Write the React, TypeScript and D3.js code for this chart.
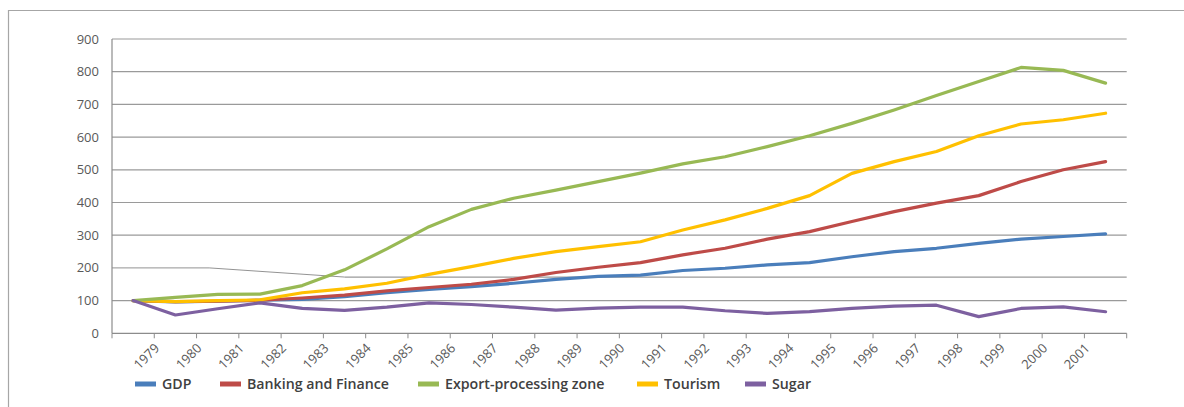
import React from "react";
import * as d3 from "d3";

const tickLabels = ["1979","1980","1981","1982","1983","1984","1985","1986","1987","1988","1989","1990","1991","1992","1993","1994","1995","1996","1997","1998","1999","2000","2001"];
const pointIndex = d3.range(24);

const gdp = [100, 96, 98, 101, 104, 112, 124, 134, 143, 153, 165, 174, 178, 192, 199, 209, 216, 234, 250, 260, 275, 288, 296, 304];
const banking = [100, 97, 98, 101, 108, 117, 130, 140, 150, 165, 186, 202, 216, 240, 260, 288, 311, 342, 372, 398, 421, 464, 500, 525];
const epz = [100, 110, 119, 120, 146, 194, 258, 326, 379, 413, 438, 464, 490, 518, 540, 571, 604, 642, 683, 727, 770, 813, 804, 765];
const tourism = [100, 97, 100, 102, 124, 136, 153, 180, 204, 229, 250, 265, 280, 316, 347, 382, 421, 489, 525, 556, 604, 640, 653, 673];
const sugar = [100, 56, 75, 93, 76, 70, 80, 93, 88, 80, 71, 77, 80, 80, 69, 61, 66, 76, 83, 86, 51, 76, 81, 66];

const seriesNames = ["GDP", "Banking and Finance", "Export-processing zone", "Tourism", "Sugar"];
const seriesColors = ["#4a7ebb", "#be4b48", "#98b954", "#ffc000", "#7d60a0"];
const seriesValues = [gdp, banking, epz, tourism, sugar];
const drawOrder = [0, 1, 3, 2, 4];

const yTicks = [0, 100, 200, 300, 400, 500, 600, 700, 800, 900];

// distorted 200-gridline seen in the source (band position, value)
const skewedGrid: [number, number][] = [[0, 200], [2.3, 200], [5.5, 172], [24, 172]];

export default function App() {
  const W = 1184, H = 407;
  const left = 112, right = 1126.7, top = 39, bottom = 333.3;
  const x = d3.scaleBand<number>().domain(pointIndex).range([left, right]).padding(0);
  const bw = x.bandwidth();
  const xc = (i: number) => (x(i) as number) + bw / 2;
  const xPos = d3.scaleLinear().domain([0, 24]).range([left, right]);
  const y = d3.scaleLinear().domain([0, 900]).range([bottom, top]);

  const line = d3.line<number>().x((_, i) => xc(i)).y((v) => y(v));
  const gridLine = d3.line<[number, number]>().x((d) => xPos(d[0])).y((d) => y(d[1]));

  const legendX = [135, 220, 418, 637, 745];
  const font = "'Open Sans', 'DejaVu Sans', sans-serif";

  return (
    <svg width={W} height={H} style={{ position: "absolute", left: 0, top: 0, display: "block", background: "#fff" }}>
      {/* frame */}
      <line x1={8} y1={10.5} x2={W} y2={10.5} stroke="#a6a6a6" strokeWidth={1.2} />
      <line x1={8.5} y1={10} x2={8.5} y2={H} stroke="#a6a6a6" strokeWidth={1.2} />

      {/* gridlines */}
      {yTicks.filter((t) => t !== 0 && t !== 200).map((t) => (
        <line key={t} x1={left} x2={right} y1={y(t)} y2={y(t)} stroke="#9a9a9a" strokeWidth={1.2} />
      ))}
      <path d={gridLine(skewedGrid.slice(0, 3)) as string} fill="none" stroke="#777" strokeWidth={0.8} />
      <path d={gridLine(skewedGrid.slice(2)) as string} fill="none" stroke="#9a9a9a" strokeWidth={1.2} />

      {/* axes */}
      <line x1={left} x2={left} y1={top} y2={bottom} stroke="#8c8c8c" strokeWidth={1.2} />
      <line x1={left} x2={right} y1={bottom} y2={bottom} stroke="#8c8c8c" strokeWidth={1.2} />
      {d3.range(25).map((k) => (
        <line key={k} x1={xPos(k)} x2={xPos(k)} y1={bottom} y2={bottom + 5} stroke="#8c8c8c" strokeWidth={1} />
      ))}

      {/* y labels */}
      {yTicks.map((t) => (
        <text key={t} x={99} y={y(t)} dy="0.35em" textAnchor="end" fontFamily={font} fontSize={13} fill="#595959">{t}</text>
      ))}

      {/* x labels */}
      {tickLabels.map((lab, k) => {
        const tx = xPos(k + 1) + 6;
        const ty = 349;
        return (
          <text key={lab} x={tx} y={ty} textAnchor="end" fontFamily={font} fontSize={13} fill="#595959"
            transform={`rotate(-45 ${tx} ${ty})`}>{lab}</text>
        );
      })}

      {/* series */}
      {drawOrder.map((s) => (
        <path key={s} d={line(seriesValues[s]) as string} fill="none" stroke={seriesColors[s]} strokeWidth={3.2}
          strokeLinejoin="round" strokeLinecap="round" />
      ))}

      {/* legend */}
      {seriesNames.map((n, s) => (
        <g key={n}>
          <line x1={legendX[s]} x2={legendX[s] + 21} y1={384} y2={384} stroke={seriesColors[s]} strokeWidth={5} />
          <text x={legendX[s] + 27} y={384} dy="0.35em" fontFamily={font} fontSize={14.2} fontWeight={600} fill="#404040">{n}</text>
        </g>
      ))}
    </svg>
  );
}
